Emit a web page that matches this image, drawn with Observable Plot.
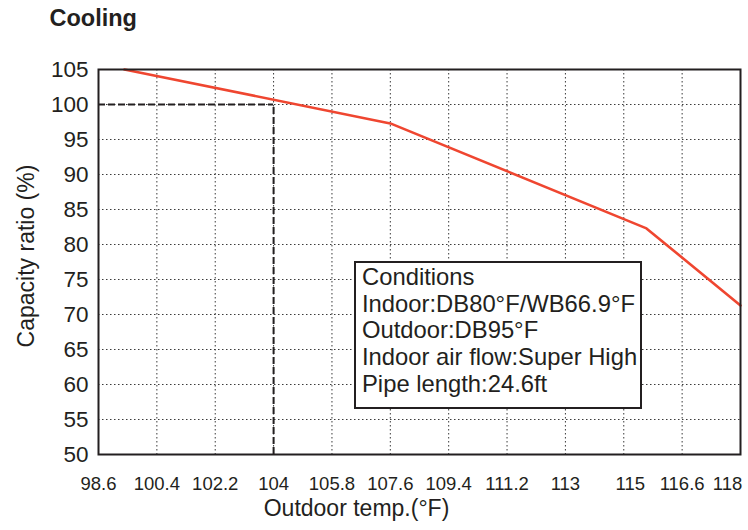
<!DOCTYPE html>
<html>
<head>
<meta charset="utf-8">
<script src="https://cdn.jsdelivr.net/npm/d3@7"></script>
<script src="https://cdn.jsdelivr.net/npm/@observablehq/plot@0.6"></script>
<style>
  html, body { margin: 0; padding: 0; background: #fff; }
  #wrap { position: relative; width: 748px; height: 530px; font-family: "Liberation Sans", Arial, sans-serif; color: #231f20; }
  #box { position: absolute; left: 354px; top: 261px; width: 288px; height: 148px; box-sizing: border-box;
         border: 2px solid #231f20; background: #fff; padding: 1px 0 0 6px; font-size: 23.8px; line-height: 26.7px; white-space: nowrap; }
</style>
</head>
<body>
<div id="wrap"></div>
<script>
// ---- data ----
const title = "Cooling";
const xLabel = "Outdoor temp.(°F)";
const yLabel = "Capacity ratio (%)";
const outdoorTemp = [99.4, 107.6, 115.5, 118.4];
const capacityRatio = [105, 97.3, 82.3, 71.3];
const xGrid = [98.6, 100.4, 102.2, 104, 105.8, 107.6, 109.4, 111.2, 113, 114.8, 116.6, 118.4];
const xTickPos = [98.6, 100.4, 102.2, 104, 105.8, 107.6, 109.4, 111.2, 113, 115, 116.6, 118];
const xTickLabels = ["98.6", "100.4", "102.2", "104", "105.8", "107.6", "109.4", "111.2", "113", "115", "116.6", "118"];
const yTicks = [50, 55, 60, 65, 70, 75, 80, 85, 90, 95, 100, 105];
const refTemp = 104;
const refRatio = 100;
const conditions = ["Conditions", "Indoor:DB80°F/WB66.9°F", "Outdoor:DB95°F", "Indoor air flow:Super High", "Pipe length:24.6ft"];

const data = outdoorTemp.map((t, i) => ({t, r: capacityRatio[i]}));
const labelMap = new Map(xTickPos.map((p, i) => [p, xTickLabels[i]]));
const ink = "#231f20";
const gridStyle = {stroke: "#3a3a3a", strokeOpacity: 1, strokeWidth: 1, strokeDasharray: "1.5,2.5"};
const dashStyle = {stroke: ink, strokeWidth: 2, strokeDasharray: "7,3"};

const chart = Plot.plot({
  width: 748,
  height: 530,
  marginLeft: 98,
  marginRight: 8,
  marginTop: 69,
  marginBottom: 76,
  style: {fontFamily: '"Liberation Sans", Arial, sans-serif', color: ink, background: "white", overflow: "visible"},
  x: {domain: [xGrid[0], xGrid[xGrid.length - 1]]},
  y: {domain: [yTicks[0], yTicks[yTicks.length - 1]]},
  marks: [
    Plot.gridX(xGrid.slice(1, -1), gridStyle),
    Plot.gridY(yTicks.slice(1, -1), gridStyle),
    Plot.ruleY([refRatio], {x1: xGrid[0], x2: refTemp, ...dashStyle}),
    Plot.ruleX([refTemp], {y1: yTicks[0], y2: refRatio, ...dashStyle}),
    Plot.line(data, {x: "t", y: "r", stroke: "#ef4630", strokeWidth: 2.6}),
    Plot.frame({stroke: ink, strokeWidth: 2}),
    Plot.axisX(xTickPos, {tickSize: 0, tickPadding: 22, fontSize: 18.5, tickFormat: d => labelMap.get(d), label: null}),
    Plot.axisY(yTicks, {tickSize: 0, tickPadding: 10, fontSize: 22.5, label: null}),
    Plot.text([xLabel], {frameAnchor: "bottom", lineAnchor: "bottom", textAnchor: "middle", dx: -63, dy: 61, fontSize: 23, fill: ink}),
    Plot.text([yLabel], {frameAnchor: "left", lineAnchor: "bottom", textAnchor: "middle", rotate: -90, dx: -65, dy: -6, fontSize: 23, fill: ink}),
    Plot.text([title], {frameAnchor: "top-left", lineAnchor: "bottom", textAnchor: "start", dx: -49, dy: -44, fontSize: 23.5, fontWeight: "bold", fill: ink})
  ]
});

const wrap = document.getElementById("wrap");
wrap.appendChild(chart);
const box = document.createElement("div");
box.id = "box";
conditions.forEach(line => {
  const d = document.createElement("div");
  d.textContent = line;
  box.appendChild(d);
});
wrap.appendChild(box);
</script>
</body>
</html>
